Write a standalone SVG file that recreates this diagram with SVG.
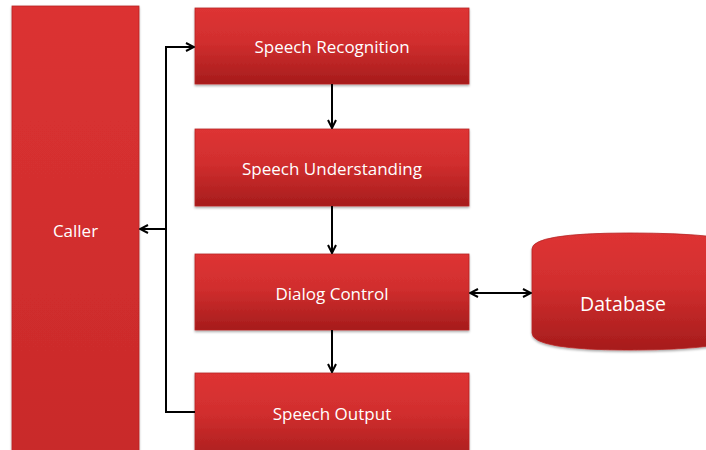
<svg xmlns="http://www.w3.org/2000/svg" width="706" height="450" viewBox="0 0 706 450">
<defs>
<linearGradient id="g" x1="0" y1="0" x2="0" y2="1">
<stop offset="0" stop-color="#de3434"/>
<stop offset="0.45" stop-color="#d12e2e"/>
<stop offset="1" stop-color="#a61c1c"/>
</linearGradient>
<linearGradient id="gc" x1="0" y1="0" x2="0" y2="1">
<stop offset="0" stop-color="#dc3232"/>
<stop offset="1" stop-color="#c82a2a"/>
</linearGradient>
<filter id="sh" x="-10%" y="-10%" width="120%" height="130%">
<feDropShadow dx="0" dy="1.5" stdDeviation="1.2" flood-color="#000" flood-opacity="0.35"/>
</filter>
<marker id="ah" viewBox="0 0 10 10" refX="9" refY="5" markerWidth="10" markerHeight="10" markerUnits="userSpaceOnUse" orient="auto-start-reverse">
<path d="M1,1 L9,5 L1,9" fill="none" stroke="#000" stroke-width="2"/>
</marker>
<style>
.box{fill:url(#g);stroke:#b82424;stroke-width:0.8;filter:url(#sh)}
.lbl{font-family:"Open Sans","Liberation Sans",sans-serif;font-size:17px;fill:#fff;text-anchor:middle;dominant-baseline:central}
.c{fill:none;stroke:#000;stroke-width:2}
</style>
</defs>
<rect width="706" height="450" fill="#fff"/>
<g id="caller">
<rect class="box" x="12" y="6" width="127" height="460" style="fill:url(#gc)"/>
<text class="lbl" x="75.5" y="230">Caller</text>
</g>
<g id="speech-recognition">
<rect class="box" x="195" y="8" width="274" height="76"/>
<text class="lbl" x="332" y="46">Speech Recognition</text>
</g>
<g id="speech-understanding">
<rect class="box" x="195" y="129" width="274" height="77"/>
<text class="lbl" x="332" y="168">Speech Understanding</text>
</g>
<g id="dialog-control">
<rect class="box" x="195" y="254" width="274" height="76"/>
<text class="lbl" x="332" y="293">Dialog Control</text>
</g>
<g id="speech-output">
<rect class="box" x="195" y="373" width="274" height="90"/>
<text class="lbl" x="332" y="413">Speech Output</text>
</g>
<g id="database">
<path class="box" d="M532,249 Q532,233 630,233 Q728,233 760,247 L760,333 Q728,350 630,350 Q532,350 532,333 Z"/>
<text class="lbl" x="623" y="303" style="font-size:19.5px">Database</text>
</g>
<g id="connectors">
<line class="c" x1="332" y1="84" x2="332" y2="128" marker-end="url(#ah)"/>
<line class="c" x1="332" y1="206" x2="332" y2="253" marker-end="url(#ah)"/>
<line class="c" x1="332" y1="330" x2="332" y2="372" marker-end="url(#ah)"/>
<line class="c" x1="470" y1="293" x2="531" y2="293" marker-start="url(#ah)" marker-end="url(#ah)"/>
<polyline class="c" points="195,412 166,412 166,47 194,47" marker-end="url(#ah)"/>
<line class="c" x1="166" y1="229" x2="140" y2="229" marker-end="url(#ah)"/>
</g>
</svg>
